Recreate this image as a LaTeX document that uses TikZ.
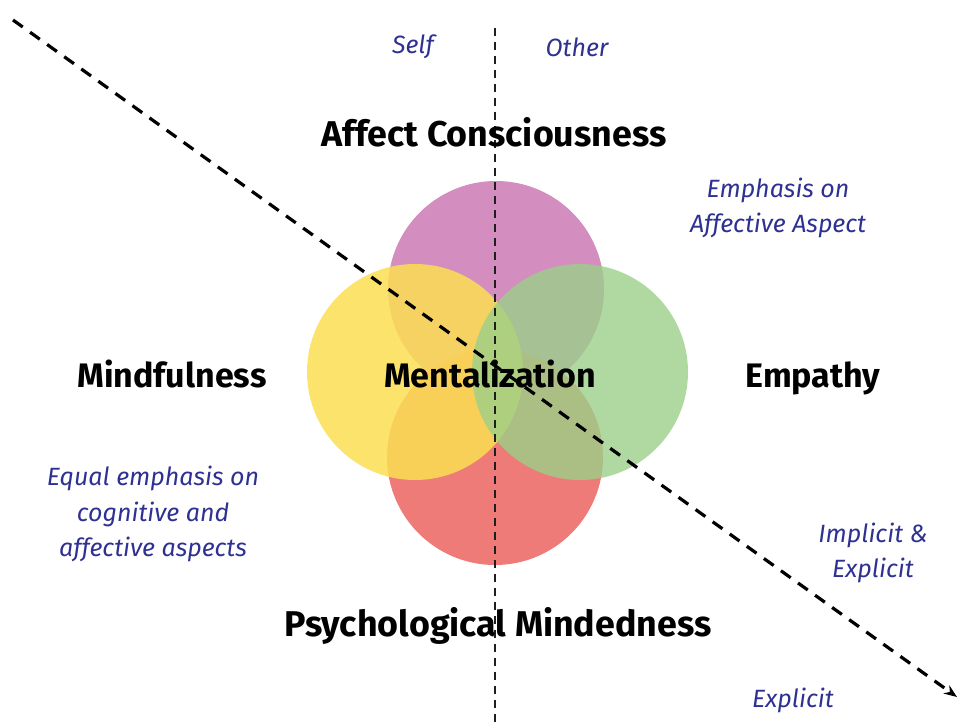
\documentclass[tikz,border=0pt]{standalone}
\usepackage{fontspec}
\setmainfont{Fira Sans}
\usetikzlibrary{arrows.meta}
\definecolor{cpurple}{RGB}{211,141,191}
\definecolor{cred}{RGB}{239,123,120}
\definecolor{cyellow}{RGB}{251,223,82}
\definecolor{cgreen}{RGB}{155,207,136}
\definecolor{cblue}{RGB}{46,49,146}
\definecolor{cline}{RGB}{30,30,30}
\tikzset{
  petal/.style={circle, minimum size=216pt, inner sep=0pt, draw=none},
  bigword/.style={font=\bfseries\fontsize{34}{37}\selectfont, text=black, anchor=base, inner sep=0pt},
  bigwordL/.style={bigword, font=\bfseries\fontsize{35.8}{37}\selectfont},
  note/.style={font=\itshape\fontsize{25}{35.5}\selectfont, text=cblue, align=center, inner sep=0pt},
  axisline/.style={draw=cline, line width=1.4pt, dash pattern=on 8pt off 6pt},
  trendline/.style={draw=black, line width=3.2pt, dash pattern=on 12pt off 9pt, -{Stealth[length=13pt,width=10pt]}}
}
\begin{document}
\begin{tikzpicture}[x=1pt,y=-1pt]
\useasboundingbox (0,0) rectangle (959,722);
% circles
\node[petal, fill=cpurple] (affect) at (496,289) {};
\node[petal, fill=cred] (psych) at (495,457) {};
\node[petal, fill=cyellow, fill opacity=0.85] (mind) at (415,372) {};
\node[petal, fill=cgreen, fill opacity=0.8] (emp) at (580,372) {};
% lines
\coordinate (vtop) at (495,28);
\coordinate (vbot) at (495,722);
\draw[axisline] (vtop) -- (vbot);
\coordinate (dstart) at (13,20);
\coordinate (dend) at (957,697);
\draw[trendline] (dstart) -- (dend);
% labels
\node[bigwordL] (lac) at (494,147) {Affect Consciousness};
\node[bigword] (lmf) at (172,387) {Mindfulness};
\node[bigword] (lmt) at (490,387) {Mentalization};
\node[bigword] (lem) at (813,387) {Empathy};
\node[bigwordL] (lpm) at (498,636) {Psychological Mindedness};
\node[note] (self) at (413,47) {Self};
\node[note] (other) at (577,47) {Other};
\node[note] (n1) at (778,208) {Emphasis on\\Affective Aspect};
\node[note] (n2) at (153,514) {Equal emphasis on\\cognitive and\\affective aspects};
\node[note] (n3) at (873,553) {Implicit \&\\Explicit};
\node[note] (n4) at (793,700) {Explicit};
\end{tikzpicture}
\end{document}
